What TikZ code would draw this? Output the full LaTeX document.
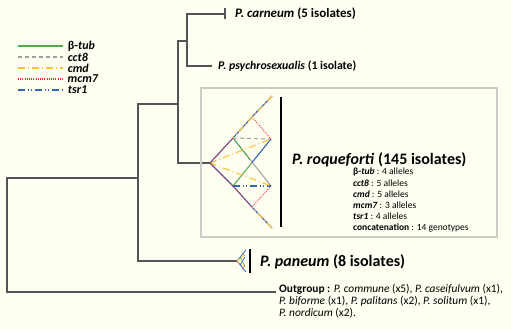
\documentclass[tikz,border=0pt]{standalone}
\usepackage{fontspec}
\setmainfont{Carlito}
\usetikzlibrary{positioning,calc}
\definecolor{ivory}{RGB}{255,255,242}
\definecolor{gtub}{RGB}{84,170,72}
\definecolor{gcct}{RGB}{158,158,158}
\definecolor{gcmd}{RGB}{255,194,52}
\definecolor{gmcm}{RGB}{250,40,40}
\definecolor{gtsr}{RGB}{52,102,182}
\definecolor{brgray}{RGB}{85,85,85}
\definecolor{boxgray}{RGB}{205,205,200}

\tikzset{
  branch/.style={brgray, line width=1.2pt},
  tub/.style={gtub, line width=1pt},
  cct/.style={gcct, line width=1pt, dash pattern=on 4pt off 3pt},
  cmdline/.style={gcmd, line width=1.1pt, dash pattern=on 7pt off 3pt on 1pt off 3pt},
  mcm/.style={gmcm, line width=0.9pt, dash pattern=on 0.9pt off 1.3pt},
  tsr/.style={gtsr, line width=1.1pt, dash pattern=on 7pt off 3pt on 1pt off 2pt on 1pt off 3pt},
  tsrsolid/.style={gtsr, line width=1.1pt},
  taxon/.style={anchor=west, inner sep=0pt, text=black},
  leglabel/.style={anchor=west, inner sep=0pt, text=black,
                   font=\fontsize{12}{13}\selectfont\bfseries\itshape},
}

\begin{document}
\begin{tikzpicture}[x=1pt, y=-1pt, line cap=butt]
    % --- fond
    \fill[ivory] (0,0) rectangle (511,329);
    \useasboundingbox (0,0) rectangle (511,329);

    % --- noeuds de l'arbre
    \coordinate (carn) at (225,14);
    \coordinate (psy)  at (212,66);
    \coordinate (kM)   at (187,41);
    \coordinate (kB)   at (187,66);
    \coordinate (jM)   at (178,104);
    \coordinate (jB)   at (178,163);
    \coordinate (roq)  at (210,163);
    \coordinate (iM)   at (138,178);
    \coordinate (iB)   at (138,261);
    \coordinate (pan)  at (237,261);
    \coordinate (rB)   at (7,292);
    \coordinate (og)   at (276,292);

    % --- branches
    \draw[branch] (carn) -| (kB) -- (psy);
    \draw[branch] (kM) -| (jB) -- (roq);
    \draw[branch] (jM) -| (iB) -- (pan);
    \draw[branch] (iM) -| (rB) -- (og);
    \draw[branch] (carn) ++(0,-5.5) -- ++(0,11);

    % --- cadre de P. roqueforti
    \draw[boxgray, line width=1.5pt] (201,88) rectangle (497,237);

    % --- reseau des haplotypes de P. roqueforti
    \coordinate (UL) at (233,138);
    \coordinate (LL) at (233,186);
    \coordinate (UM) at (252,117);
    \coordinate (LM) at (252,207);
    \coordinate (TT) at (272,96);
    \coordinate (BT) at (272,228);
    \coordinate (UR) at (271,139);
    \coordinate (LR) at (271,186);
    \draw[cct] (UL) -- (UR);
    \draw[gcct, line width=1pt] (UL) -- (LR);
    \draw[tub] (UL) -- ($(UL)!0.45!(LR)$);
    \draw[tub] (LL) -- ($(LL)!0.5!(UR)$);
    \draw[tsrsolid] ($(LL)!0.5!(UR)$) -- (UR);
    \draw[tsr] (LL) -- (LR);
    \draw[cmdline] (roq) -- (UR);
    \draw[cmdline] (roq) -- (LR);
    \draw[mcm] (UM) -- (UR);
    \draw[mcm] (LR) -- (LM);
    \draw[tsrsolid] (TT) -- (UM) -- (UL) -- (roq) -- (LL) -- (LM) -- (BT);
    \draw[cmdline] (TT) -- (UL);
    \draw[cmdline] (BT) -- (LM);
    \draw[mcm] (UL) -- (roq) -- (LL) -- (LM);
    \draw[black, line width=1.6pt] (281,97) -- (281,227);

    % --- petit reseau de P. paneum
    \draw[gtsr, line width=0.8pt] (246,250) -- (pan) -- (246,272);
    \draw[gcmd, line width=0.7pt] (pan) -- (245,255) (pan) -- (245,267);
    \draw[gtub, line width=0.6pt] (240,257) -- (245,266);
    \draw[gmcm, line width=0.5pt, dash pattern=on 0.6pt off 0.8pt] (242,253) -- (245,256) (245,266) -- (242,269);
    \draw[gtsr, line width=0.6pt] (240,265) -- (245,257);
    \draw[black, line width=1.3pt] (250,249) -- (250,273);

    % --- noms des taxons
    \node[taxon, font=\fontsize{13}{15}\selectfont\bfseries, right=10pt of carn] (carnL)
         {\textit{P. carneum} (5 isolates)};
    \node[taxon, font=\fontsize{11.8}{13}\selectfont\bfseries, right=6pt of psy] (psyL)
         {\textit{P. psychrosexualis} (1 isolate)};
    \node[taxon, font=\fontsize{16}{18}\selectfont\bfseries] (roqL) at (292,160)
         {\textit{P. roqueforti} (145 isolates)};
    \node[anchor=north west, inner sep=0pt, align=left,
          font=\fontsize{9.5}{11.2}\selectfont] (alleles) at (353,168)
         {\textbf{β-\textit{tub}} : 4 alleles\\
          \textbf{\textit{cct8}} : 5 alleles\\
          \textbf{\textit{cmd}} : 5 alleles\\
          \textbf{\textit{mcm7}} : 3 alleles\\
          \textbf{\textit{tsr1}} : 4 alleles\\
          \textbf{concatenation} : 14 genotypes};
    \node[taxon, font=\fontsize{16}{18}\selectfont\bfseries] (panL) at (260,262)
         {\textit{P. paneum} (8 isolates)};
    \node[anchor=north west, inner sep=0pt, align=left,
          font=\fontsize{11.4}{12.2}\selectfont] (ogL) at (279,284)
         {\textbf{Outgroup :} \textit{P. commune} (x5), \textit{P. caseifulvum} (x1),\\
          \textit{P. biforme} (x1), \textit{P. palitans} (x2), \textit{P. solitum} (x1),\\
          \textit{P. nordicum} (x2).};

    % --- legende
    \coordinate (l1) at (18,46);
    \coordinate (l2) at (18,57);
    \coordinate (l3) at (18,68);
    \coordinate (l4) at (18,79);
    \coordinate (l5) at (18,90);
    \draw[tub, line width=1.8pt] (l1) -- ++(45,0) node[leglabel, right=4pt] (k1) {\upshape β-\itshape tub};
    \draw[cct, line width=1.8pt] (l2) -- ++(45,0) node[leglabel, right=4pt] (k2) {cct8};
    \draw[cmdline, line width=1.8pt] (l3) -- ++(45,0) node[leglabel, right=4pt] (k3) {cmd};
    \draw[mcm, line width=1.4pt] (l4) -- ++(45,0) node[leglabel, right=4pt] (k4) {mcm7};
    \draw[tsr, line width=1.8pt] (l5) -- ++(45,0) node[leglabel, right=4pt] (k5) {tsr1};
\end{tikzpicture}
\end{document}
